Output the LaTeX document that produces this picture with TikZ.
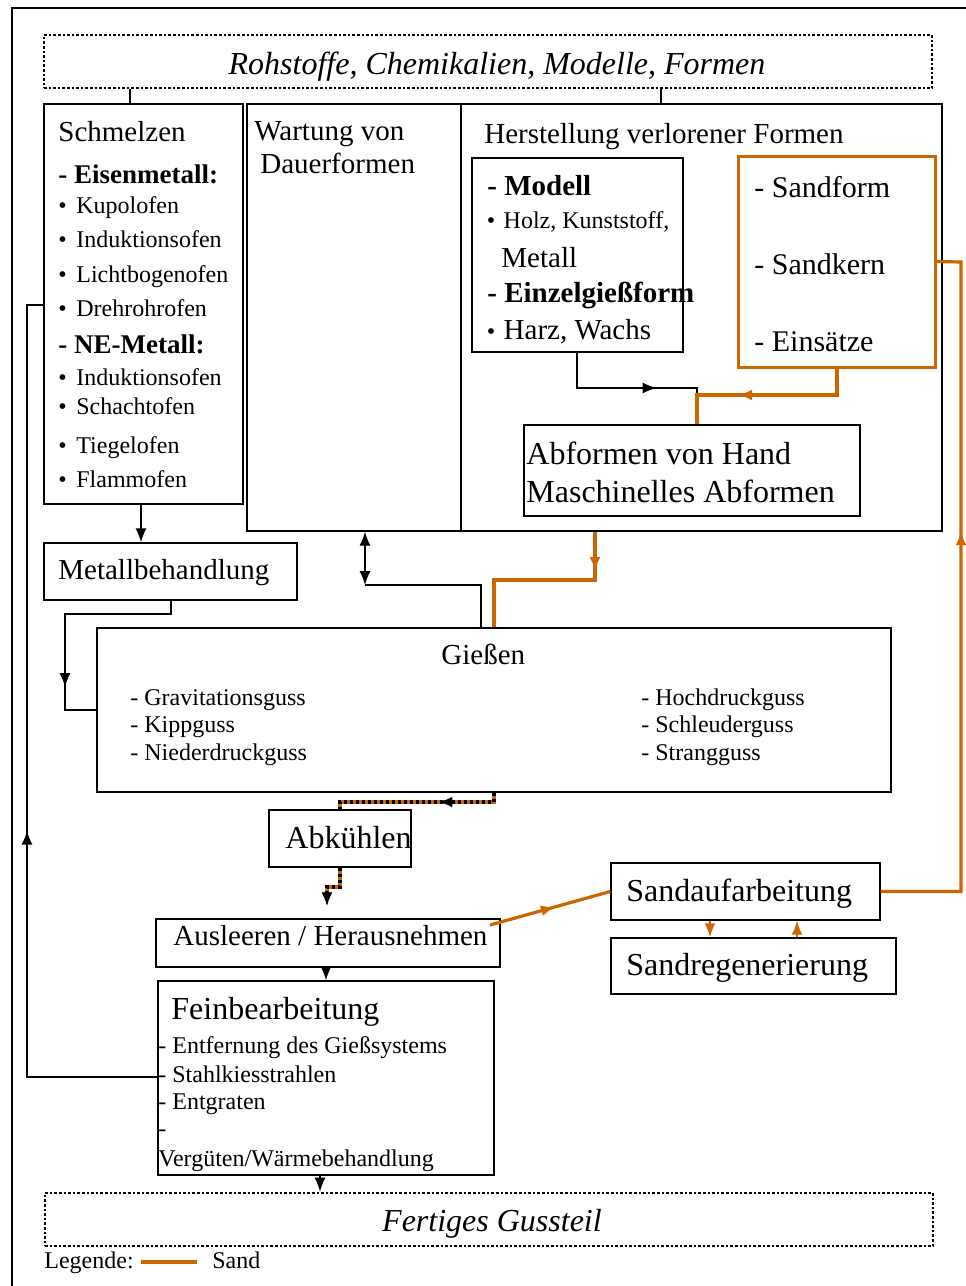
\documentclass[tikz,border=0pt]{standalone}
\usepackage{fontspec}
\setmainfont{Liberation Serif}
\usetikzlibrary{arrows,arrows.meta,fit,decorations.markings}

\definecolor{sand}{RGB}{204,102,0}

\newcommand{\fntS}{\fontsize{12}{14}\selectfont}
\newcommand{\fntSB}{\fontsize{13.5}{16}\selectfont\bfseries}
\newcommand{\fntM}{\fontsize{14.5}{17}\selectfont}
\newcommand{\fntF}{\fontsize{15}{18}\selectfont}
\newcommand{\fntB}{\fontsize{16}{19}\selectfont}
\newcommand{\bull}[1]{\makebox[#1][l]{\fontsize{12}{12}\selectfont\textbullet}}

\tikzset{
  >={Latex[length=7pt,width=5.5pt]},
  box/.style={draw, line width=0.7pt, inner sep=0pt},
  sandbox/.style={draw=sand, line width=1.5pt, inner sep=0pt},
  endbox/.style={draw, line width=1.3pt, densely dotted, inner sep=0pt},
  txt/.style={anchor=base west, inner sep=0pt},
  conn/.style={line width=0.7pt},
  sandline/.style={draw=sand, line width=1.6pt},
  sandthin/.style={draw=sand, line width=1pt},
  mixline/.style={draw=sand, line width=1.6pt, postaction={draw=black, dash pattern=on 1.5pt off 1.5pt}},
  midarrow/.style={postaction={decorate}, decoration={markings, mark=at position #1 with {\arrow{>}}}},
  midarrowblack/.style={postaction={decorate}, decoration={markings, mark=at position #1 with {\arrow[black]{>}}}},
}

\begin{document}
\begin{tikzpicture}[x=0.5pt,y=-0.5pt]
\useasboundingbox (0,0) rectangle (965,1286);
% Rahmen
\draw[line width=1pt] (12,1290) -- (12,8) -- (970,8);

% Kaesten
\node[endbox, fit={(44,35) (932,88)}] (roh) {};
\node[box, fit={(44,104) (243,504)}] (schm) {};
\node[box, fit={(247,104) (461,531)}] (wart) {};
\node[box, fit={(461,104) (942,531)}] (herst) {};
\node[box, fit={(472,158) (683,352)}] (modell) {};
\node[sandbox, fit={(738,156) (935,367)}] (sand) {};
\node[box, fit={(524,425) (860,516)}] (abform) {};
\node[box, fit={(44,543) (297,600)}] (metb) {};
\node[box, fit={(97,628) (891,792)}] (giess) {};
\node[box, fit={(269,810) (411,867)}] (abk) {};
\node[box, fit={(156,919) (500,967)}] (ausl) {};
\node[box, fit={(611,863) (880,920)}] (saufa) {};
\node[box, fit={(611,938) (896,994)}] (sregen) {};
\node[box, fit={(158,981) (494,1175)}] (fein) {};
\node[endbox, fit={(45,1193) (933,1246)}] (fert) {};

% Texte
\node[txt, anchor=base, font=\fntB\itshape] (rohT) at (497,74) {Rohstoffe, Chemikalien, Modelle, Formen};

\node[txt, font=\fntM] (schmT) at (58,141) {Schmelzen};
\node[txt, font=\fntSB] (eisen) at (58,183) {- Eisenmetall:};
\foreach \ofen/\y in {Kupolofen/213, Induktionsofen/247, Lichtbogenofen/282, Drehrohrofen/316}
  \node[txt, font=\fntS] (o\y) at (58,\y) {\bull{9pt}\ofen};
\node[txt, font=\fntSB] (ne) at (58,353) {- NE-Metall:};
\foreach \ofen/\y in {Induktionsofen/385, Schachtofen/414, Tiegelofen/453, Flammofen/487}
  \node[txt, font=\fntS] (o\y) at (58,\y) {\bull{9pt}\ofen};

\node[txt, font=\fntM] (wartT) at (254,140) {Wartung von};
\node[txt, font=\fntM] (wartT2) at (260,173) {Dauerformen};

\node[txt, font=\fntM] (herstT) at (484,143) {Herstellung verlorener Formen};
\node[txt, font=\fntM\bfseries] (modT) at (487,195) {- Modell};
\node[txt, font=\fntS] (holz) at (486.5,228) {\bull{8.4pt}Holz, Kunststoff,};
\node[txt, font=\fntM] (metall) at (501,267) {Metall};
\node[txt, font=\fntM\bfseries] (einz) at (487,302) {- Einzelgießform};
\node[txt, font=\fntM] (harz) at (486.5,339) {\bull{8.4pt}Harz, Wachs};
\foreach \sname/\y in {Sandform/197, Sandkern/274, Einsätze/351}
  \node[txt, font=\fntF] (s\y) at (754,\y) {- \sname};
\node[txt, font=\fntB] (abT1) at (526,464) {Abformen von Hand};
\node[txt, font=\fntB] (abT2) at (526,502) {Maschinelles Abformen};

\node[txt, font=\fntM] (metbT) at (58,579) {Metallbehandlung};
\node[txt, font=\fntM] (giessT) at (441,664) {Gießen};
\foreach \guss/\y in {Gravitationsguss/705, Kippguss/732, Niederdruckguss/760}
  \node[txt, font=\fntS] (gl\y) at (130,\y) {- \guss};
\foreach \guss/\y in {Hochdruckguss/705, Schleuderguss/732, Strangguss/760}
  \node[txt, font=\fntS] (gr\y) at (641,\y) {- \guss};
\node[txt, font=\fntB] (abkT) at (285,848) {Abkühlen};
\node[txt, font=\fntM] (auslT) at (173,945) {Ausleeren / Herausnehmen};
\node[txt, font=\fntB] (saufaT) at (626,901) {Sandaufarbeitung};
\node[txt, font=\fntB] (sregenT) at (626,975) {Sandregenerierung};
\node[txt, font=\fntB] (feinT) at (171,1019) {Feinbearbeitung};
\foreach \ftxt/\y in {Entfernung des Gießsystems/1053, Stahlkiesstrahlen/1082, Entgraten/1109}
  \node[txt, font=\fntS] (f\y) at (158,\y) {- \ftxt};
\node[txt, font=\fntS] (f1136) at (158,1136) {-};
\node[txt, font=\fntS] (f1166) at (158,1166) {Vergüten/Wärmebehandlung};
\node[txt, anchor=base, font=\fntB\itshape] (fertT) at (492,1231) {Fertiges Gussteil};

% Legende
\node[txt, font=\fntS] (leg) at (44,1268) {Legende:};
\node[txt, font=\fntS] (legS) at (212,1268) {Sand};
\coordinate (l1) at (141,1262);
\coordinate (l2) at (197,1262);
\draw[sandline, line width=2pt] (l1) -- (l2);

% Hilfspunkte
\coordinate (k1) at (130,0);
\coordinate (k2) at (661,0);
\coordinate (k3) at (141,0);
\coordinate (k4) at (481,0);
\coordinate (dbl) at (365,585);
\coordinate (mb) at (577,388);
\coordinate (mk) at (697,388);
\coordinate (sb) at (837,0);
\coordinate (sk) at (697,395);
\coordinate (ab) at (595,580);
\coordinate (ag) at (494,580);
\coordinate (mt) at (171,614);
\coordinate (ml) at (65,614);
\coordinate (gb) at (494,802);
\coordinate (ak) at (327,887);
\coordinate (ao) at (490,925);
\coordinate (sr) at (961,262);
\coordinate (sx1) at (710,0);
\coordinate (sx2) at (797,0);
\coordinate (fx) at (320,0);
\coordinate (rt) at (27,1077);
\coordinate (rb) at (27,305);

% Verbindungen
\draw[conn] (roh.south -| k1) -- (schm.north -| k1);
\draw[conn] (roh.south -| k2) -- (herst.north -| k2);
\draw[conn,->] (schm.south -| k3) -- (metb.north -| k3);
\draw[conn,<->] (wart.south -| dbl) -- (dbl);
\draw[conn] (dbl) -| (giess.north -| k4);
\draw[conn, midarrow=0.6] (modell.south -| mb) |- (mk) -- (abform.north -| mk);
\draw[sandline, midarrow=0.64] (sand.south -| sb) |- (sk) -- (abform.north -| sk);
\draw[sandline, midarrow=0.2] (herst.south -| ab) -- (ab) -- (ag) -- (giess.north -| ag);
\draw[conn, midarrow=0.78] (metb.south -| mt) -- (mt) -- (ml) |- (giess.west);
\draw[mixline, midarrowblack=0.38] (giess.south -| gb) -- (gb) -- (abk.north |- gb) -- (abk.north);
\draw[mixline, ->, shorten >=6pt] (abk.south) |- (ak) -- (ausl.north -| ak);
\draw[conn,->] (ausl.south -| fein.north) -- (fein.north);
\draw[sandline, midarrow=0.54] (ao) -- (saufa.west);
\draw[sandthin,->] (saufa.south -| sx1) -- (sregen.north -| sx1);
\draw[sandthin,->] (sregen.north -| sx2) -- (saufa.south -| sx2);
\draw[sandline, midarrow=0.6] (saufa.east) -| (sr) -- (sand.east);
\draw[conn,->] (fein.south -| fx) -- (fert.north -| fx);
\draw[conn, midarrow=0.41] (fein.west |- rt) -- (rt) -- (rb) -- (schm.west |- rb);
\end{tikzpicture}
\end{document}
